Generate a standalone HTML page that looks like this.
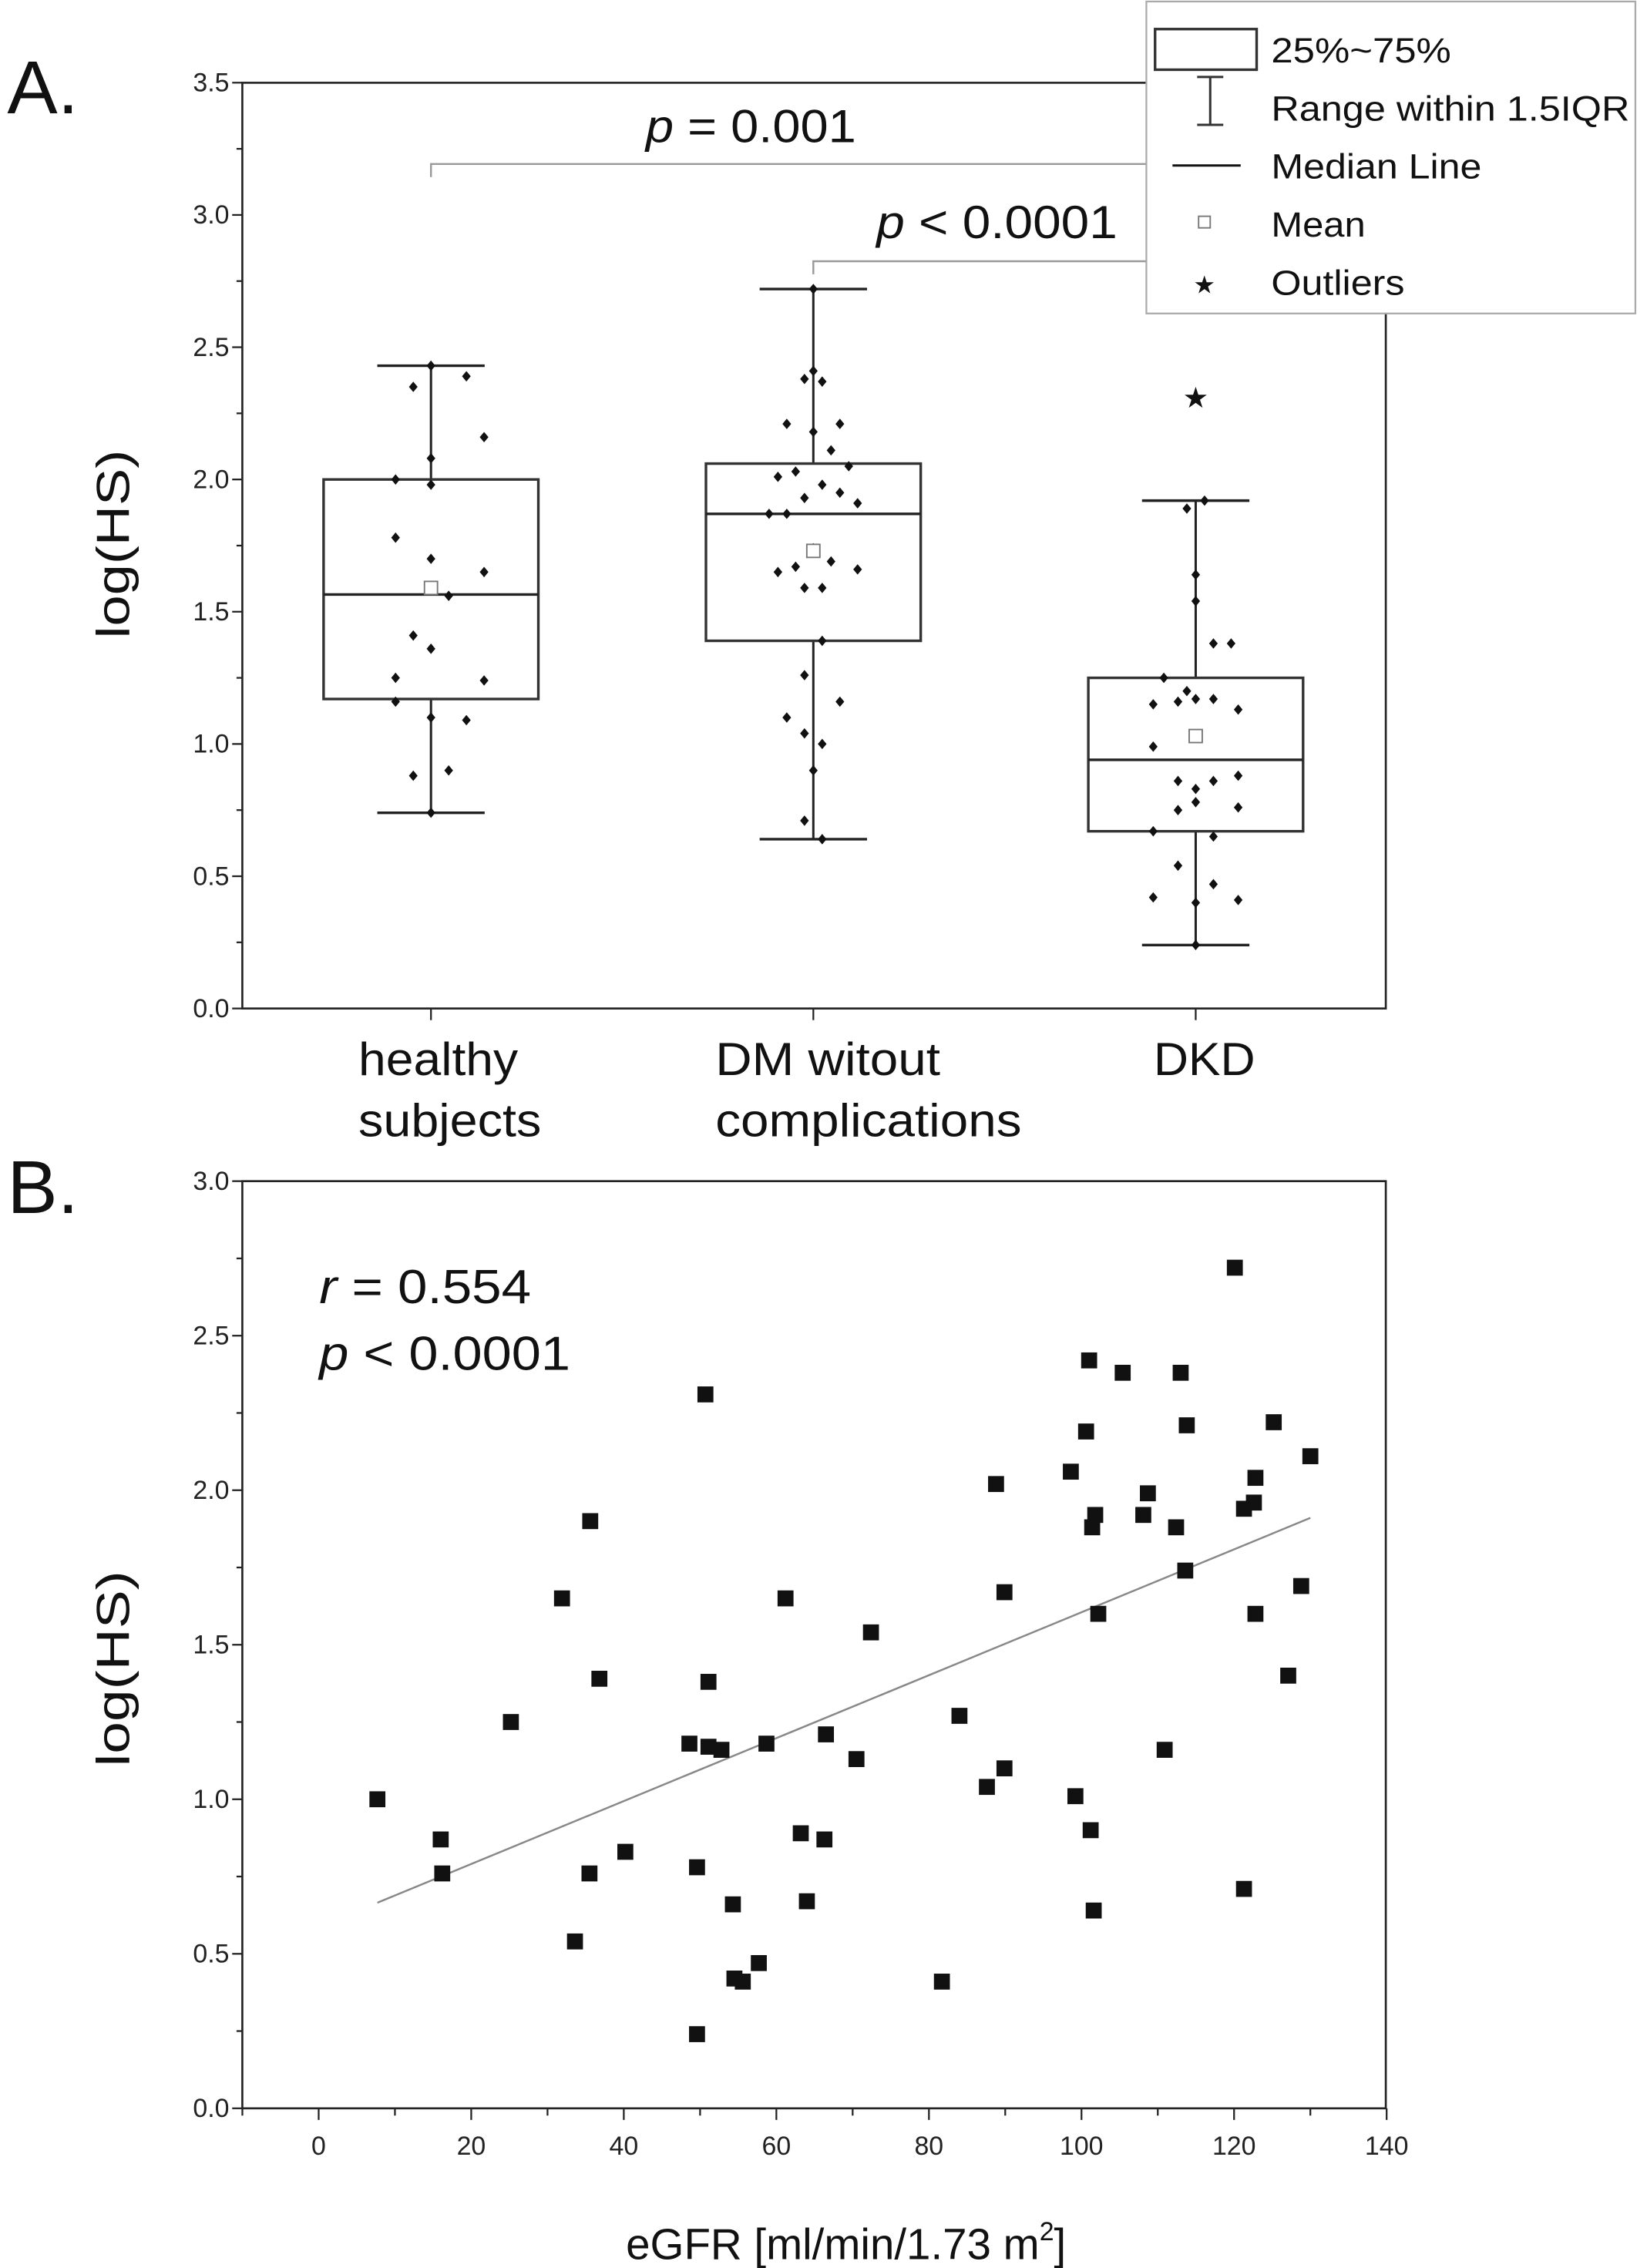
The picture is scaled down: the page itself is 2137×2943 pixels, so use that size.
<!DOCTYPE html>
<html><head><meta charset="utf-8"><style>
html,body{margin:0;padding:0;background:#fff}
svg{display:block}
text{font-family:"Liberation Sans",sans-serif;fill:#111}
.tick{font-family:"Liberation Sans Narrow","Liberation Sans",sans-serif;font-size:18px;fill:#222}
</style></head><body>
<svg id="fig" width="2137" height="2943" viewBox="0 0 1135 1563" xmlns="http://www.w3.org/2000/svg">
<text x="5" y="78" font-size="52">A.</text>
<text x="5" y="836" font-size="52">B.</text>
<g id="pa"></g>
<g id="pb"></g>
</svg>
<script>
// ---------- Panel A data ----------
const categories = ["healthy subjects","DM witout complications","DKD"];
const whiskerLow = [0.74,0.64,0.24];
const whiskerHigh = [2.43,2.72,1.92];
const q1 = [1.17,1.39,0.67];
const q3 = [2.00,2.06,1.25];
const medians = [1.565,1.87,0.94];
const means = [1.59,1.73,1.03];
const outlierVals = [[],[],[2.31]];
const healthyVals = [2.35,2.39,2.43,2.16,2.0,2.08,1.98,1.78,1.70,1.65,1.56,1.41,1.36,1.25,1.24,1.16,1.10,1.09,0.88,0.90,0.74];
const healthyJit = [-1,2,0,3,-2,0,0,-2,0,3,1,-1,0,-2,3,-2,0,2,-1,1,0];
const dmVals = [2.72,2.41,2.38,2.37,2.21,2.21,2.18,2.11,2.05,2.01,2.03,1.98,1.93,1.95,1.91,1.87,1.87,1.69,1.65,1.67,1.66,1.74,1.59,1.59,1.39,1.26,1.16,1.10,1.04,1.00,0.90,0.71,0.64];
const dmJit = [0,0,-0.5,0.5,-1.5,1.5,0,1,2,-2,-1,0.5,-0.5,1.5,2.5,-2.5,-1.5,1,-2,-1,2.5,0,-0.5,0.5,0.5,-0.5,1.5,-1.5,-0.5,0.5,0,-0.5,0.5];
const dkdVals = [1.89,1.92,1.64,1.54,1.38,1.38,1.25,1.20,1.15,1.16,1.17,1.17,1.13,0.99,0.86,0.83,0.86,0.88,0.75,0.78,0.76,0.67,0.65,0.54,0.42,0.47,0.40,0.41,0.24];
const dkdJit = [-0.5,0.5,0,0,1,2,-1.8,-0.5,-2.4,-1,0,1,2.4,-2.4,-1,0,1,2.4,-1,0,2.4,-2.4,1,-1,-2.4,1,0,2.4,0];
const yTicksA = ["0.0","0.5","1.0","1.5","2.0","2.5","3.0","3.5"];
// ---------- Panel B data ----------
const egfr = [7.7,16,16.2,25.2,31.9,33.6,35.6,35.5,36.8,40.2,48.6,49.6,49.6,50.7,51.1,51.1,52.8,54.3,54.5,55.6,57.7,58.7,61.2,63.2,64,66.3,66.5,70.5,72.4,81.7,84,87.6,88.8,89.9,89.9,99.2,98.6,100.6,101,101.2,101.4,101.8,101.6,102.2,105.4,108.1,108.7,110.9,112.4,113,113.6,113.8,120.1,121.3,121.3,122.6,122.8,122.8,125.2,127.1,128.8,130];
const loghs = [1.00,0.87,0.76,1.25,1.65,0.54,1.90,0.76,1.39,0.83,1.18,0.24,0.78,2.31,1.38,1.17,1.16,0.66,0.42,0.41,0.47,1.18,1.65,0.89,0.67,0.87,1.21,1.13,1.54,0.41,1.27,1.04,2.02,1.10,1.67,1.01,2.06,2.19,2.42,0.90,1.88,1.92,0.64,1.60,2.38,1.92,1.99,1.16,1.88,2.38,1.74,2.21,2.72,0.71,1.94,1.96,1.60,2.04,2.22,1.40,1.69,2.11];
const fitCoef = [0.587,0.01018];
const fitRange = [7.7,130];
const xTicksB = ["0","20","40","60","80","100","120","140"];
const yTicksB = ["0.0","0.5","1.0","1.5","2.0","2.5","3.0"];

const NS="http://www.w3.org/2000/svg";
function mk(parent,tag,attrs,txt){const e=document.createElementNS(NS,tag);for(const k in attrs)e.setAttribute(k,attrs[k]);if(txt!==undefined)e.textContent=txt;parent.appendChild(e);return e;}

// ---------- Panel A ----------
const A=document.getElementById('pa');
const L=167,R=955;
const yA=v=>695-v*182.3;
const xA=i=>297+i*263.5;
const jitterStep=12.2;
let e;
e=mk(A,'rect',{x:L,y:57,width:R-L,height:638,fill:'none',stroke:'#222','stroke-width':1.4});


for(let k=0;k<=14;k++){const v=k*0.25;const y=yA(v);const major=k%2===0;
 mk(A,'line',{x1:L,x2:L-(major?7:4),y1:y,y2:y,stroke:'#222','stroke-width':1.2});
 if(major){e=mk(A,'text',{x:L-9,y:y+6,'text-anchor':'end',class:'tick'},yTicksA[k/2]);
 
 }}
e=mk(A,'text',{x:0,y:0,'font-size':32,'text-anchor':'middle',textLength:130,lengthAdjust:'spacingAndGlyphs',transform:'translate(89,375) rotate(-90)'},'log(HS)');


const catLines=[["healthy","subjects"],["DM witout","complications"],["DKD"]];
const catX=[[247,247],[493,493],[795]];
const catLen=[[110,126],[155,211],[70]];
categories.forEach((c,i)=>{const x=xA(i);
 mk(A,'line',{x1:x,x2:x,y1:695,y2:703,stroke:'#222','stroke-width':1.2});
 catLines[i].forEach((t,j)=>{e=mk(A,'text',{x:catX[i][j],y:741+j*42,'font-size':32,textLength:catLen[i][j],lengthAdjust:'spacingAndGlyphs'},t);
 
 });
 const g=mk(A,'g',{});
 
 
 mk(g,'line',{x1:x,x2:x,y1:yA(whiskerLow[i]),y2:yA(whiskerHigh[i]),stroke:'#222','stroke-width':1.6});
 mk(g,'line',{x1:x-37,x2:x+37,y1:yA(whiskerLow[i]),y2:yA(whiskerLow[i]),stroke:'#222','stroke-width':1.8});
 mk(g,'line',{x1:x-37,x2:x+37,y1:yA(whiskerHigh[i]),y2:yA(whiskerHigh[i]),stroke:'#222','stroke-width':1.8});
 mk(g,'rect',{x:x-74,y:yA(q3[i]),width:148,height:yA(q1[i])-yA(q3[i]),fill:'#fff',stroke:'#333','stroke-width':1.8});
 mk(g,'line',{x1:x-74,x2:x+74,y1:yA(medians[i]),y2:yA(medians[i]),stroke:'#222','stroke-width':1.8});
 outlierVals[i].forEach(v=>{e=mk(A,'text',{x:x,y:yA(v)+7,'font-size':20,'text-anchor':'middle'},'★');
 
 });
});
[[healthyVals,healthyJit],[dmVals,dmJit],[dkdVals,dkdJit]].forEach((s,i)=>{
 s[0].forEach((v,j)=>{const cx=xA(i)+s[1][j]*jitterStep,cy=yA(v);
 e=mk(A,'path',{d:`M${cx} ${cy-3.6}L${cx+3} ${cy}L${cx} ${cy+3.6}L${cx-3} ${cy}Z`,fill:'#111'});
 
 });
});
categories.forEach((c,i)=>{const x=xA(i);
 e=mk(A,'rect',{x:x-4.5,y:yA(means[i])-4.5,width:9,height:9,fill:'#fff',stroke:'#777','stroke-width':1});
 
 });
e=mk(A,'path',{d:`M${xA(0)} 122V113H${xA(2)}V122`,fill:'none',stroke:'#999','stroke-width':1.3});


e=mk(A,'path',{d:`M${xA(1)} 189V180H${xA(2)}V189`,fill:'none',stroke:'#999','stroke-width':1.3});


e=mk(A,'text',{x:445,y:98,'font-size':32,textLength:145,lengthAdjust:'spacingAndGlyphs'},'');
e.innerHTML='<tspan font-style="italic">p</tspan> = 0.001';


e=mk(A,'text',{x:604,y:164,'font-size':32,textLength:166,lengthAdjust:'spacingAndGlyphs'},'');
e.innerHTML='<tspan font-style="italic">p</tspan> &lt; 0.0001';


const lg=mk(A,'g',{});


mk(lg,'rect',{x:790,y:1,width:337,height:215,fill:'#fff',stroke:'#aaa','stroke-width':1.2});
mk(lg,'rect',{x:796,y:20,width:70,height:28,fill:'#fff',stroke:'#333','stroke-width':1.8});
mk(lg,'path',{d:'M825 53H843M834 53V86M825 86H843',stroke:'#333','stroke-width':1.6,fill:'none'});
mk(lg,'line',{x1:808,x2:855,y1:114,y2:114,stroke:'#111','stroke-width':1.6});
mk(lg,'rect',{x:826,y:149,width:8,height:8,fill:'#fff',stroke:'#777','stroke-width':1});
mk(lg,'text',{x:830,y:202,'font-size':17,'text-anchor':'middle'},'★');
const legLen=[124,247,145,65,92];
["25%~75%","Range within 1.5IQR","Median Line","Mean","Outliers"].forEach((t,k)=>{
 e=mk(lg,'text',{x:876,y:43+k*40,'font-size':24,textLength:legLen[k],lengthAdjust:'spacingAndGlyphs'},t);
 
 });

// ---------- Panel B ----------
const B=document.getElementById('pb');
const yB=v=>1453-v*213;
const xB=v=>219.6+v*5.257;
e=mk(B,'rect',{x:L,y:814,width:R-L,height:639,fill:'none',stroke:'#222','stroke-width':1.4});


for(let k=0;k<=12;k++){const v=k*0.25,y=yB(v),major=k%2===0;
 mk(B,'line',{x1:L,x2:L-(major?7:4),y1:y,y2:y,stroke:'#222','stroke-width':1.2});
 if(major){e=mk(B,'text',{x:L-9,y:y+6,'text-anchor':'end',class:'tick'},yTicksB[k/2]);
 
 }}
for(let v=-10;v<=140;v+=10){const x=xB(v),major=v%20===0;
 mk(B,'line',{x1:x,x2:x,y1:1453,y2:1453+(major?8:5),stroke:'#222','stroke-width':1.2});
 if(major){e=mk(B,'text',{x:x,y:1485,'text-anchor':'middle',class:'tick','font-size':20},xTicksB[v/20]);
 
 }}
e=mk(B,'text',{x:0,y:0,'font-size':32,'text-anchor':'middle',textLength:135,lengthAdjust:'spacingAndGlyphs',transform:'translate(89,1150) rotate(-90)'},'log(HS)');


e=mk(B,'text',{x:583,y:1557,'font-size':30,'text-anchor':'middle'},'');
e.innerHTML='eGFR [ml/min/1.73 m<tspan font-size="18" dy="-13">2</tspan><tspan dy="13">]</tspan>';


e=mk(B,'line',{x1:xB(fitRange[0]),x2:xB(fitRange[1]),y1:yB(fitCoef[0]+fitCoef[1]*fitRange[0]),y2:yB(fitCoef[0]+fitCoef[1]*fitRange[1]),stroke:'#888','stroke-width':1.3});


egfr.forEach((v,i)=>{
 e=mk(B,'rect',{x:xB(v)-5.5,y:yB(loghs[i])-5.5,width:11,height:11,fill:'#111'});
 
 });
e=mk(B,'text',{x:220,y:898,'font-size':33,textLength:146,lengthAdjust:'spacingAndGlyphs'},'');
e.innerHTML='<tspan font-style="italic">r</tspan> = 0.554';


e=mk(B,'text',{x:220,y:944,'font-size':33,textLength:173,lengthAdjust:'spacingAndGlyphs'},'');
e.innerHTML='<tspan font-style="italic">p</tspan> &lt; 0.0001';


</script>
</body></html>
